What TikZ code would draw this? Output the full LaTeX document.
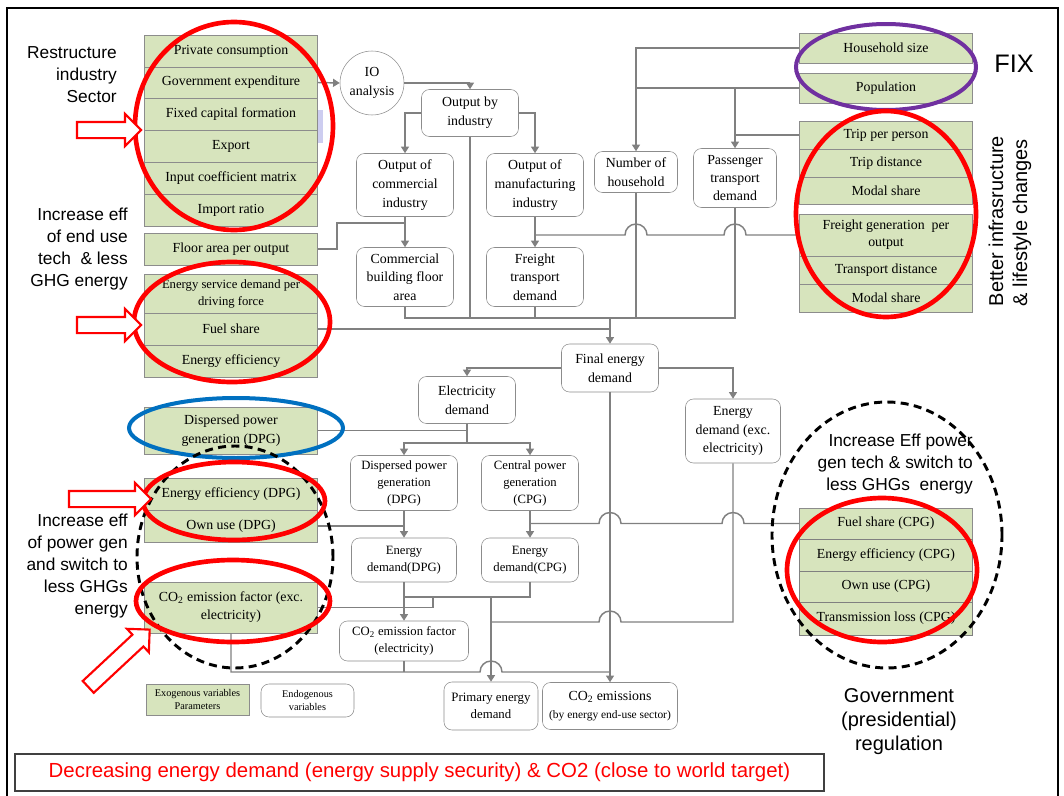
\documentclass[tikz,border=0pt]{standalone}
\usepackage{fontspec}
\setmainfont{Liberation Serif}
\setsansfont{Liberation Sans}
\usetikzlibrary{arrows.meta}
\usetikzlibrary{calc}
\usetikzlibrary{shapes.arrows}

\definecolor{exogreen}{RGB}{215,228,189}
\definecolor{boxgray}{RGB}{140,140,140}
\definecolor{linegray}{RGB}{128,128,128}
\definecolor{ringpurple}{RGB}{112,48,160}
\definecolor{ringblue}{RGB}{0,112,192}
\definecolor{lav}{RGB}{205,205,240}

\newcommand{\diagfont}{\fontsize{10.4}{14}\selectfont}
\newcommand{\diagsmall}{\fontsize{9.5}{12.75}\selectfont}
\newcommand{\diagtiny}{\fontsize{7.7}{9.5}\selectfont}
\newcommand{\notefont}{\sffamily\fontsize{13}{16.5}\selectfont}

\tikzset{
    exo/.style={draw=boxgray, fill=exogreen, minimum width=130pt, minimum height=24pt, inner sep=1pt, align=center, font=\diagfont},
    endo/.style={draw=boxgray, fill=white, rounded corners=6pt, inner sep=1pt, align=center, font=\diagfont},
    wire/.style={draw=linegray, line width=1.1pt},
    flow/.style={wire, -{Triangle[length=5pt,width=6pt]}},
    redring/.style={draw=red, line width=3.5pt},
    dashring/.style={draw=black, line width=2.2pt, dash pattern=on 6pt off 4pt},
    hollow/.style={single arrow, draw=red, line width=1.6pt, fill=white, inner xsep=0pt, inner ysep=5.25pt, minimum width=22.5pt, single arrow head extend=6pt},
    remark/.style={font=\notefont, align=right, anchor=east, inner sep=0pt}
}

\begin{document}
\begin{tikzpicture}[x=0.75pt, y=-0.75pt]
                \useasboundingbox (0,0) rectangle (1064,796);
                \draw[line width=2.2pt] (7,8) rectangle (1058,810);
                \fill[lav] (318,110) rectangle (323,143);

                \node[exo] (pc) at (231,51) {Private consumption};
                \node[exo, minimum height=23.25pt] (ge) at (231,82.5) {Government expenditure};
                \node[exo] (fcf) at (231,114) {Fixed capital formation};
                \node[exo] (ex) at (231,146) {Export};
                \node[exo] (icm) at (231,178) {Input coefficient matrix};
                \node[exo] (ir) at (231,210) {Import ratio};
                \node[exo] (fa) at (231,249) {Floor area per output};
                \node[exo, minimum height=29.25pt, font=\diagsmall] (esd) at (231,293.5) {Energy service demand per\\driving force};
                \node[exo] (fs) at (231,329) {Fuel share};
                \node[exo] (ee) at (231,361) {Energy efficiency};
                \node[exo, minimum height=35.25pt] (dpgx) at (231,430.5) {Dispersed power\\generation (DPG)};
                \node[exo] (eedpg) at (231,494) {Energy efficiency (DPG)};
                \node[exo] (oudpg) at (231,526) {Own use (DPG)};
                \node[exo, minimum height=38.25pt, font=\fontsize{10.4}{13.5}\selectfont] (co2x) at (231,607.5) {CO\textsubscript{2} emission factor (exc.\\electricity)};
                \node[exo, minimum width=77.25pt, minimum height=23.25pt, font=\diagtiny] (legexo) at (197.5,699.5) {Exogenous variables\\Parameters};

                \node[exo, minimum height=22.5pt] (hs) at (886,48) {Household size};
                \node[exo, minimum height=22.5pt] (pop) at (886,88) {Population};
                \node[exo, minimum height=21pt] (tpp) at (886,135) {Trip per person};
                \node[exo, minimum height=21pt] (td) at (886,163) {Trip distance};
                \node[exo, minimum height=20.25pt] (ms1) at (886,190.5) {Modal share};
                \node[exo, minimum height=31.5pt, font=\fontsize{10.4}{12.75}\selectfont] (fgo) at (886,235) {Freight generation\ \ per\\output};
                \node[exo, minimum height=21pt] (trd) at (886,270) {Transport distance};
                \node[exo, minimum height=21pt] (ms2) at (886,298) {Modal share};
                \node[exo, minimum height=23.25pt] (fscpg) at (886,523.5) {Fuel share (CPG)};
                \node[exo, draw=gray] (eecpg) at (886,555) {Energy efficiency (CPG)};
                \node[exo, draw=gray, minimum height=23.25pt] (oucpg) at (886,586.5) {Own use (CPG)};
                \node[exo, draw=gray, minimum height=24.75pt] (tlcpg) at (886,618.5) {Transmission loss (CPG)};

                \node[draw=boxgray, fill=white, circle, minimum size=48pt, inner sep=0pt, align=center, font=\diagfont] (io) at (372,83) {IO\\analysis};
                \node[endo, minimum width=72.75pt, minimum height=35.25pt] (obi) at (470,113) {Output by\\industry};
                \node[endo, minimum width=72.75pt, minimum height=47.25pt] (ocom) at (405,185) {Output of\\commercial\\industry};
                \node[endo, minimum width=72.75pt, minimum height=47.25pt] (oman) at (535,185) {Output of\\manufacturing\\industry};
                \node[endo, minimum width=62.25pt, minimum height=30.75pt] (noh) at (636,172) {Number of\\household};
                \node[endo, minimum width=62.25pt, minimum height=44.25pt, font=\fontsize{10.4}{13.5}\selectfont] (ptd) at (735,178) {Passenger\\transport\\demand};
                \node[endo, minimum width=72.75pt, minimum height=44.25pt] (cbfa) at (405,277) {Commercial\\building floor\\area};
                \node[endo, minimum width=72.75pt, minimum height=44.25pt] (ftd) at (535,277) {Freight\\transport\\demand};
                \node[endo, minimum width=72.75pt, minimum height=36pt] (fed) at (610,368) {Final energy\\demand};
                \node[endo, minimum width=72.75pt, minimum height=35.25pt] (eld) at (467,400) {Electricity\\demand};
                \node[endo, minimum width=71.25pt, minimum height=48pt] (edx) at (733,431) {Energy\\demand (exc.\\electricity)};
                \node[endo, minimum width=80.25pt, minimum height=41.25pt, font=\diagsmall] (dpg) at (404,483) {Dispersed power\\generation\\(DPG)};
                \node[endo, minimum width=72.75pt, minimum height=41.25pt, font=\diagsmall] (cpg) at (530,483) {Central power\\generation\\(CPG)};
                \node[endo, minimum width=78.75pt, minimum height=33pt, font=\diagsmall] (eddpg) at (404,560) {Energy\\demand(DPG)};
                \node[endo, minimum width=72.75pt, minimum height=33pt, font=\diagsmall] (edcpg) at (530,560) {Energy\\demand(CPG)};
                \node[endo, minimum width=96.75pt, minimum height=30pt, font=\fontsize{9.5}{12.5}\selectfont] (cefel) at (404,641) {CO\textsubscript{2} emission factor\\(electricity)};
                \node[endo, minimum width=70.5pt, minimum height=36pt, font=\fontsize{9.6}{13}\selectfont] (ped) at (491,706) {Primary energy\\demand};
                \node[endo, minimum width=101.25pt, minimum height=35.25pt] (co2em) at (610,706) {CO\textsubscript{2} emissions\\{\fontsize{8.6}{10}\selectfont (by energy end-use sector)}};
                \node[endo, minimum width=69.75pt, minimum height=24.75pt, font=\diagtiny] (legendo) at (307.5,700.5) {Endogenous\\variables};

                \coordinate (bus) at (610,318);
                \coordinate (elsplit) at (467,443);
                \coordinate (edjoin) at (491,597);
                \coordinate (cxjoin) at (433,597);
                \coordinate (exline) at (733,622);
                \coordinate (botline) at (231,672);

                \draw[flow] (ge.east) -- (io.west);
                \draw[flow] (io.east) -| (obi.north);
                \draw[flow] (obi.west) -| (ocom.north);
                \draw[flow] (obi.east) -| (oman.north);
                \draw[flow] (ocom.south) -- (cbfa.north);
                \draw[wire] (fa.east) -- ++(19,0) |- ($(ocom.south)+(0,6)$);
                \draw[flow] (oman.south) -- (ftd.north);
                \draw[wire] (fgo.west) -- ($(ptd.south |- fgo.west)+(11,0)$) arc[start angle=0, end angle=180, radius=8.25pt]
                    -- ($(noh.south |- fgo.west)+(11,0)$) arc[start angle=0, end angle=180, radius=8.25pt] -- (oman.south |- fgo.west);
                \draw[flow] (hs.west) -| (noh.north);
                \draw[wire] (pop.west) -- (noh.north |- pop.west);
                \draw[flow] (ptd.north |- pop.west) -- (ptd.north);
                \draw[wire] (tpp.west) -- (ptd.north |- tpp.west);
                \draw[wire] (cbfa.south) |- (ptd.south |- bus) -- (ptd.south);
                \draw[wire] (obi.south) -- (obi.south |- bus);
                \draw[wire] (ftd.south) -- (ftd.south |- bus);
                \draw[wire] (noh.south) -- (noh.south |- bus);
                \draw[flow] (bus) -- (fed.north);
                \draw[wire] (fs.east) -- (fed.north |- fs.east);
                \draw[flow] (fed.west) -| (eld.north);
                \draw[flow] (fed.east) -| (edx.north);
                \draw[flow] (fed.south) -- (co2em.north);
                \draw[wire] (eld.south) -- (elsplit);
                \draw[wire] (dpgx.east) -- (eld.south |- dpgx.east);
                \draw[flow] (elsplit) -| (dpg.north);
                \draw[flow] (elsplit) -| (cpg.north);
                \draw[flow] (dpg.south) -- (eddpg.north);
                \draw[wire] (oudpg.east) -- (dpg.south |- oudpg.east);
                \draw[flow] (cpg.south) -- (edcpg.north);
                \draw[wire] (fscpg.west) -- ($(edx.south |- fscpg.west)+(11,0)$) arc[start angle=0, end angle=180, radius=8.25pt]
                    -- ($(fed.south |- fscpg.west)+(11,0)$) arc[start angle=0, end angle=180, radius=8.25pt] -- (cpg.south |- fscpg.west);
                \draw[flow] (eddpg.south) -- (cefel.north);
                \draw[wire] (eddpg.south |- edjoin) -| (edcpg.south);
                \draw[flow] (edjoin) -- (ped.north);
                \draw[wire] (co2x.east) -| (cxjoin);
                \draw[wire] (edx.south) -- (exline) -- ($(fed.south |- exline)+(11,0)$) arc[start angle=0, end angle=180, radius=8.25pt] -- (edjoin |- exline);
                \draw[wire] (co2x.south) -- (botline) -- ($(edjoin |- botline)+(-11,0)$) arc[start angle=180, end angle=0, radius=8.25pt] -- (co2em.north |- botline);
                \draw[wire] (cefel.south) -- (cefel.south |- botline);

                \draw[redring] (234,126) ellipse [x radius=74.25pt, y radius=78pt];
                \draw[redring] (232,322) ellipse [x radius=73.5pt, y radius=45pt];
                \draw[draw=ringblue, line width=3pt] (236,428) ellipse [x radius=80.25pt, y radius=22.5pt];
                \draw[dashring] (235,557) ellipse [x radius=73.5pt, y radius=83.25pt];
                \draw[redring] (234,501) ellipse [x radius=68.25pt, y radius=29.25pt];
                \draw[redring] (233,601) ellipse [x radius=72.75pt, y radius=30.75pt];
                \draw[draw=ringpurple, line width=3pt] (886,67) ellipse [x radius=67.5pt, y radius=32.25pt];
                \draw[redring] (886,214) ellipse [x radius=67.5pt, y radius=77.25pt];
                \draw[dashring] (887,535) ellipse [x radius=86.25pt, y radius=99.75pt];
                \draw[redring] (882,570) ellipse [x radius=71.25pt, y radius=54pt];

                \node[hollow, minimum height=48pt] (arrA) at (105,130) {};
                \node[hollow, minimum height=48pt] (arrB) at (105,325) {};
                \node[hollow, minimum height=61.5pt] (arrC) at (106,499) {};
                \node[hollow, minimum height=63pt, rotate=43] (arrD) at (116,661) {};

                \node[remark] (restr) at (117,75) {Restructure\\industry\\Sector};
                \node[remark] (endnote) at (128,249.5) {Increase eff\\of end use\\tech\ \ \& less\\GHG energy};
                \node[remark] (pownote) at (128,566.5) {Increase eff\\of power gen\\and switch to\\less GHGs\\energy};
                \node[remark] (cpgnote) at (973,464) {Increase Eff power\\gen tech \& switch to\\less GHGs\ \ energy};
                \node[font=\sffamily\fontsize{15}{18}\selectfont, align=center] (govnote) at (899,722) {Government\\(presidential)\\regulation};
                \node[font=\sffamily\fontsize{19}{22}\selectfont] (fixnote) at (1014,64) {FIX};
                \node[font=\sffamily\fontsize{15}{18}\selectfont, align=left, rotate=90] (betternote) at (1010,221) {Better infrasructure\\\& lifestyle changes};
                \node[draw=black!75, line width=1.2pt, minimum width=606.75pt, minimum height=27.75pt, text=red, font=\sffamily\fontsize{15.3}{17}\selectfont] (goal) at (419.5,772.5) {Decreasing energy demand (energy supply security) \& CO2 (close to world target)};
\end{tikzpicture}
\end{document}
